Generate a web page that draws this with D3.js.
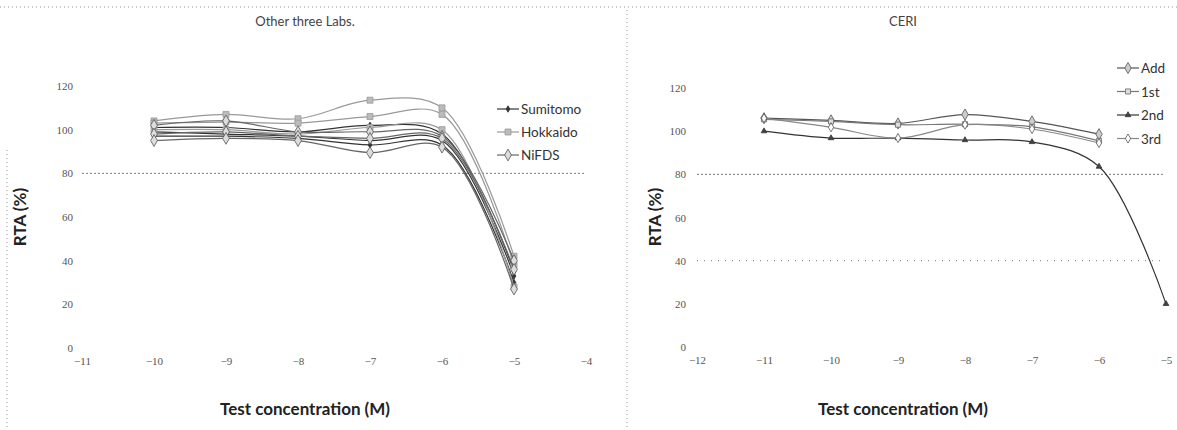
<html>
<head>
<meta charset="utf-8">
<script src="https://d3js.org/d3.v7.min.js"></script>
<style>
  body { margin: 0; background: #fff; font-family: Lato, "Open Sans", sans-serif; }
  .tick text { fill: #555; font-size: 11px; font-family: "Liberation Serif", serif; }
  .title { fill: #444; font-size: 13px; }
  .axis-title { fill: #222; font-size: 17px; font-weight: bold; }
  .legend text { fill: #333; font-size: 13.5px; }
  .ref { stroke: #777; stroke-width: 1; stroke-dasharray: 2,2; fill: none; }
  .frame { stroke: #999; stroke-width: 1; stroke-dasharray: 1,3; fill: none; }
</style>
</head>
<body>
<svg id="chart" width="1177" height="430"></svg>
<script>
// ---- data ----
var yTicks = [0, 20, 40, 60, 80, 100, 120];

// left panel: other three labs, 3 runs each
var leftTicks = [-11, -10, -9, -8, -7, -6, -5, -4];
var leftConc = [-10, -9, -8, -7, -6, -5];
var sumitomoRuns = [
  [101, 101, 99, 102, 98, 35],
  [99, 98, 97, 95, 95, 33],
  [97, 97, 96, 93, 93, 30]
];
var hokkaidoRuns = [
  [104, 107, 105, 113.5, 110, 42],
  [103, 103.5, 103, 106, 107, 38],
  [100, 100, 98, 101, 100, 28]
];
var nifdsRuns = [
  [102, 104, 99, 99, 97, 40],
  [98, 99, 97, 96, 96, 36],
  [95, 96, 95, 89.5, 92, 27]
];
var leftNames = ["Sumitomo", "Hokkaido", "NiFDS"];

// right panel: CERI
var rightTicks = [-12, -11, -10, -9, -8, -7, -6, -5];
var rightConc = [-11, -10, -9, -8, -7, -6, -5];
var ceriAdd = [106, 105, 103.6, 107.7, 104.5, 98.6];
var ceri1st = [105.5, 104.5, 103, 103.2, 102, 95.5];
var ceri2nd = [100, 96.8, 96.8, 95.9, 95, 83.6, 20];
var ceri3rd = [106, 101.8, 96.8, 103, 101, 94.5];
var rightNames = ["Add", "1st", "2nd", "3rd"];

var svg = d3.select("#chart");

// faint scan frame lines
svg.append("line").attr("class", "frame").attr("x1", 0).attr("x2", 1177).attr("y1", 7).attr("y2", 7);
svg.append("line").attr("class", "frame").attr("x1", 7).attr("x2", 7).attr("y1", 150).attr("y2", 430);
svg.append("line").attr("class", "frame").attr("x1", 627).attr("x2", 627).attr("y1", 10).attr("y2", 430);

var styles = {
  sumitomo: { line: "#333", sym: d3.symbolDiamond, size: 12, fill: "#333", stroke: "#333" },
  hokkaido: { line: "#999", sym: d3.symbolSquare, size: 36, fill: "#bbb", stroke: "#999" },
  nifds:    { line: "#666", sym: d3.symbolDiamond, size: 40, fill: "#ddd", stroke: "#555" },
  add:      { line: "#555", sym: d3.symbolDiamond, size: 36, fill: "#ccc", stroke: "#555" },
  first:    { line: "#777", sym: d3.symbolSquare, size: 26, fill: "#ddd", stroke: "#666" },
  second:   { line: "#333", sym: d3.symbolTriangle, size: 14, fill: "#444", stroke: "#333" },
  third:    { line: "#888", sym: d3.symbolDiamond, size: 24, fill: "#fff", stroke: "#555" }
};

function drawPanel(p) {
  var x = d3.scaleLinear().domain(p.xDomain).range(p.xRange);
  var y = d3.scaleLinear().domain([0, 120]).range(p.yRange);
  var g = svg.append("g");

  g.append("g")
    .attr("transform", "translate(" + p.xRange[0] + ",0)")
    .call(d3.axisLeft(y).tickValues(yTicks).tickSize(0).tickPadding(p.yPad))
    .call(function(a) { a.select(".domain").remove(); });

  g.append("g")
    .attr("transform", "translate(0," + p.yRange[0] + ")")
    .call(d3.axisBottom(x).tickValues(p.ticks).tickSize(0).tickPadding(9).tickFormat(d3.format("d")))
    .call(function(a) { a.select(".domain").remove(); });

  p.refs.forEach(function(r) {
    g.append("line").attr("class", "ref")
      .attr("x1", x(p.xDomain[0])).attr("x2", x(p.xDomain[1]) - 2)
      .attr("y1", y(r.v)).attr("y2", y(r.v))
      .style("stroke-dasharray", r.dash);
  });

  var line = d3.line()
    .x(function(d) { return x(d[0]); })
    .y(function(d) { return y(d[1]); })
    .curve(d3.curveCatmullRom.alpha(0.5));

  p.series.forEach(function(s) {
    var pts = s.values.map(function(v, i) { return [p.conc[i], v]; });
    g.append("path").datum(pts)
      .attr("d", line)
      .attr("fill", "none")
      .attr("stroke", s.style.line)
      .attr("stroke-width", 1.2);
    g.selectAll(null).data(pts).enter().append("path")
      .attr("transform", function(d) { return "translate(" + x(d[0]) + "," + y(d[1]) + ")"; })
      .attr("d", d3.symbol().type(s.style.sym).size(s.style.size))
      .attr("fill", s.style.fill)
      .attr("stroke", s.style.stroke)
      .attr("stroke-width", 0.8);
  });

  g.append("text").attr("class", "title")
    .attr("x", p.titleX).attr("y", 26).attr("text-anchor", "middle").text(p.title);
  g.append("text").attr("class", "axis-title")
    .attr("x", p.titleX).attr("y", 415).attr("text-anchor", "middle").text("Test concentration (M)");
  g.append("text").attr("class", "axis-title")
    .attr("transform", "translate(" + p.rtaX + ",217) rotate(-90)")
    .attr("text-anchor", "middle").text("RTA (%)");

  var leg = g.append("g").attr("class", "legend");
  p.legend.forEach(function(l, i) {
    var ly = p.legY + i * p.legStep;
    leg.append("line").attr("x1", p.legX).attr("x2", p.legX + 22)
      .attr("y1", ly).attr("y2", ly).attr("stroke", l.style.line).attr("stroke-width", 1.2);
    leg.append("path")
      .attr("transform", "translate(" + (p.legX + 11) + "," + ly + ")")
      .attr("d", d3.symbol().type(l.style.sym).size(l.style.size))
      .attr("fill", l.style.fill).attr("stroke", l.style.stroke).attr("stroke-width", 0.8);
    leg.append("text").attr("x", p.legX + 24).attr("y", ly + 5).text(l.name);
  });
}

var leftSeries = [];
sumitomoRuns.forEach(function(v) { leftSeries.push({ values: v, style: styles.sumitomo }); });
hokkaidoRuns.forEach(function(v) { leftSeries.push({ values: v, style: styles.hokkaido }); });
nifdsRuns.forEach(function(v) { leftSeries.push({ values: v, style: styles.nifds }); });

drawPanel({
  xDomain: [-11, -4], xRange: [82, 586], yRange: [348, 86], yPad: 9,
  ticks: leftTicks, conc: leftConc, series: leftSeries,
  refs: [{ v: 80, dash: "2,2" }],
  title: "Other three Labs.", titleX: 305, rtaX: 26,
  legend: [
    { name: leftNames[0], style: styles.sumitomo },
    { name: leftNames[1], style: styles.hokkaido },
    { name: leftNames[2], style: styles.nifds }
  ],
  legX: 497, legY: 109, legStep: 23
});

drawPanel({
  xDomain: [-12, -5], xRange: [697, 1166], yRange: [347, 88], yPad: 11,
  ticks: rightTicks, conc: rightConc,
  series: [
    { values: ceriAdd, style: styles.add },
    { values: ceri1st, style: styles.first },
    { values: ceri2nd, style: styles.second },
    { values: ceri3rd, style: styles.third }
  ],
  refs: [{ v: 80, dash: "2,2" }, { v: 40, dash: "1,6" }],
  title: "CERI", titleX: 903, rtaX: 661,
  legend: [
    { name: rightNames[0], style: styles.add },
    { name: rightNames[1], style: styles.first },
    { name: rightNames[2], style: styles.second },
    { name: rightNames[3], style: styles.third }
  ],
  legX: 1117, legY: 68, legStep: 23.5
});
</script>
</body>
</html>
